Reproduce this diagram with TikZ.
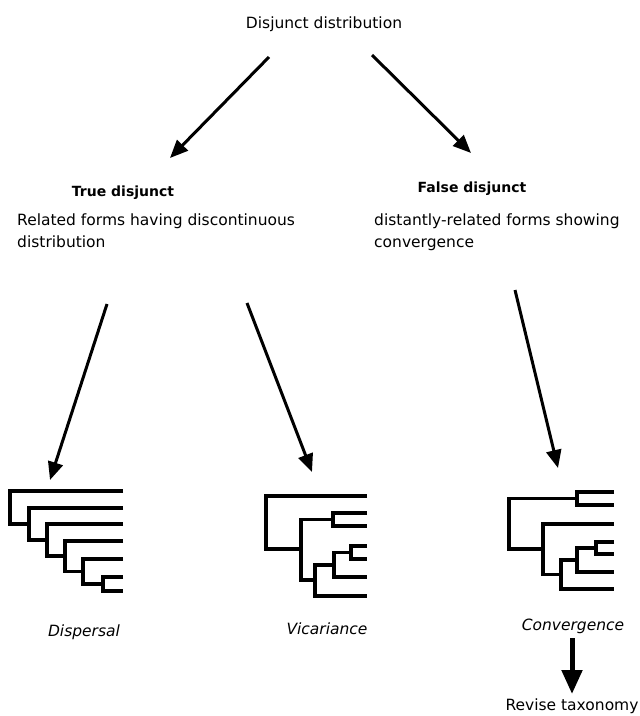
\documentclass[tikz,border=0pt]{standalone}
\usepackage{fontspec}
\setmainfont{DejaVu Sans}
\usetikzlibrary{
  arrows.meta,
  positioning
}

\begin{document}
\begin{tikzpicture}[x=1pt,y=-1pt,
      label/.style={
         inner sep=0pt,
         font=\fontsize{15.5}{22}\selectfont
      },
      heading/.style={
         label,
         font=\fontsize{14}{20}\selectfont\bfseries
      },
      taxon/.style={
         label,
         anchor=base,
         font=\fontsize{15.5}{20}\selectfont\itshape
      },
      point/.style={coordinate},
      >={Triangle[length=18pt,width=15pt]},
      tip/.style={->,line width=3pt},
      clade/.style={line width=3.3pt,line join=miter}
    ]
    \useasboundingbox (0,0) rectangle (640,716);
    % texts
    \node (n1) [label, anchor=base] at (324,28) {Disjunct distribution};
    \node (n21) [heading] at (123,193) {True disjunct};
    \node (n22) [label, align=left, anchor=north west] at (17,214) {Related forms having discontinuous\\distribution};
    \node (n31) [heading] at (472,189) {False disjunct};
    \node (n32) [label, align=left, anchor=north west] at (374,214) {distantly-related forms showing\\convergence};
    \node (n41) [taxon] at (84,636) {Dispersal};
    \node (n42) [taxon] at (327,634) {Vicariance};
    \node (n43) [taxon] at (573,630) {Convergence};
    \node (n5) [label, anchor=base] at (572,710) {Revise taxonomy};
    % arrow ends
    \node (n11) [point] at (269,57) {};
    \node (n12) [point] at (372,55) {};
    \node (n23) [point] at (107,304) {};
    \node (n24) [point] at (247,303) {};
    \node (n33) [point] at (515,290) {};
    \node (n44) [point] at (572,638) {};
    \node (n61) [point] at (170,158) {};
    \node (n62) [point] at (471,153) {};
    \node (n71) [point] at (50,480) {};
    \node (n72) [point] at (312,472) {};
    \node (n73) [point] at (558,468) {};
    \node (n74) [point] at (572,694) {};
    \draw [tip] (n11) -- (n61);
    \draw [tip] (n12) -- (n62);
    \draw [tip] (n23) -- (n71);
    \draw [tip] (n24) -- (n72);
    \draw [tip] (n33) -- (n73);
    \draw [tip, line width=5pt, >={Triangle[length=24pt,width=20pt]}] (n44) -- (n74);
    % Dispersal tree
    \draw [clade] (123,491) -| (10,524) -- (29,524);
    \draw [clade] (123,508) -| (29,540) -- (47,540);
    \draw [clade] (123,524) -| (47,556) -- (65,556);
    \draw [clade] (123,541) -| (65,571.5) -- (83,571.5);
    \draw [clade] (123,559) -| (83,584) -- (103,584);
    \draw [clade] (123,577) -| (103,591) -- (123,591);
    % Vicariance tree
    \draw [clade] (367,496) -| (266,549) -- (301,549);
    \draw [clade] (333,519.5) -| (301,580) -- (315,580);
    \draw [clade] (367,513) -| (333,526) -- (367,526);
    \draw [clade] (334,565) -| (315,596) -- (367,596);
    \draw [clade] (351,552.5) -| (334,577) -- (367,577);
    \draw [clade] (367,546) -| (351,559) -- (367,559);
    % Convergence tree
    \draw [clade] (614,492) -| (577,505) -- (614,505);
    \draw [clade] (577,498.5) -| (509,549) -- (543,549);
    \draw [clade] (614,524) -| (543,574.5) -- (561,574.5);
    \draw [clade] (577,560) -| (561,589) -- (614,589);
    \draw [clade] (596,548) -| (577,572) -- (614,572);
    \draw [clade] (614,542) -| (596,554) -- (614,554);
\end{tikzpicture}
\end{document}
